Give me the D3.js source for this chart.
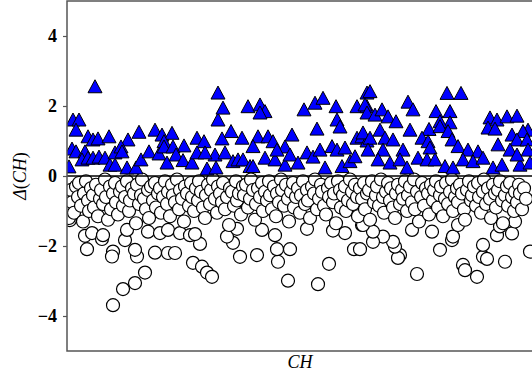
<!DOCTYPE html>
<html>
<head>
<meta charset="utf-8">
<script src="https://cdn.jsdelivr.net/npm/d3@7"></script>
<style>
  body { margin: 0; background: #fff; }
  svg { display: block; }
  .serif { font-family: "Times New Roman", "Liberation Serif", Times, serif; }
</style>
</head>
<body>
<div id="chart"></div>
<script>
// positions along CH (sample index) and Δ(CH) values
const triX = [6,12,9,28,21,26,31,42,61,72,88,95,105,97,117,130,137,151,151,5,9,18,2,15,21,26,32,38,43,48,48,54,55,60,69,74,82,92,100,97,106,109,116,125,130,140,148,138,
  156,181,193,198,193,237,248,256,269,270,273,250,290,300,300,164,155,175,191,201,206,225,186,218,158,166,171,176,183,186,198,208,218,223,231,240,246,253,258,265,270,275,278,283,288,290,295,300,149,210,
  303,380,394,341,346,298,300,308,315,321,329,369,383,383,373,423,430,440,450,421,428,461,343,362,373,381,313,296,445,456,303,318,326,355,361,385,431,450,460,301,316,336,363,391,401,411,443,461,311,323,333,351,360,368,378,386,396,406,416,426,435,453,463,340,450];
const triV = [1.6,1.6,1.31,2.55,1.12,1.03,1.06,1.12,1.03,1.25,1.31,1.17,1.22,0.98,0.86,1.08,0.98,2.37,1.6,0.77,0.69,0.69,0.26,0.46,0.51,0.51,0.54,0.51,0.31,0.31,0.66,0.83,0.69,0.23,0.23,0.46,0.69,0.63,0.37,0.83,0.83,0.6,0.44,0.37,0.66,0.2,0.6,0.66,
  1.94,1.98,2.03,1.84,1.8,1.89,2.08,2.22,1.98,1.6,1.4,1.34,1.98,1.98,2.37,1.27,1.06,1.08,1.12,1.12,0.98,1.17,0.84,0.83,0.66,0.41,0.46,0.46,0.27,0.27,0.51,0.46,0.31,0.6,0.37,0.66,0.54,0.74,0.23,0.84,0.74,0.27,0.8,0.41,0.55,1.08,1.12,1.0,0.23,0.74,
  2.41,2.36,2.36,2.11,1.89,2.03,1.8,1.74,1.89,1.69,1.55,1.84,1.84,1.52,1.55,1.66,1.6,1.69,1.71,1.37,1.34,1.31,1.31,1.33,1.41,1.27,1.31,1.23,1.17,1.27,1.08,1.08,1.03,1.08,0.98,1.03,0.89,1.03,1.03,0.74,0.74,0.74,0.8,0.84,0.74,0.69,0.74,0.74,0.46,0.37,0.46,0.51,0.46,0.46,0.27,0.23,0.46,0.41,0.51,0.23,0.31,0.31,0.37,0.23,0.6];

// outlying circles
const cirX = [46,56,68,78,20,46,45,70,68,88,101,108,126,135,140,145,133,18,25,35,36,58,60,81,93,101,113,123,128,3,
  173,190,211,221,251,262,210,223,208,166,160,287,278,266,240,295,170,195,
  350,410,396,398,416,420,438,416,463,373,385,386,333,331,328,326,316,306,306,296,293,345,365,391,430,445,448,433];
const cirV = [-3.69,-3.23,-3.06,-2.76,-2.09,-2.16,-2.3,-2.3,-2.11,-2.19,-2.2,-2.2,-2.48,-2.59,-2.76,-2.88,-1.94,-1.71,-1.63,-1.8,-1.69,-1.83,-1.54,-1.59,-1.63,-1.54,-1.63,-1.69,-1.66,-1.26,
  -2.31,-2.26,-2.45,-2.99,-3.09,-2.51,-2.09,-2.09,-1.69,-1.91,-1.73,-2.09,-1.63,-1.56,-1.51,-1.4,-1.51,-1.54,
  -2.8,-2.88,-2.54,-2.69,-2.31,-2.37,-2.45,-1.97,-2.16,-2.11,-1.83,-1.73,-2.26,-2.34,-2.02,-1.88,-1.73,-1.88,-1.59,-1.4,-2.09,-1.54,-1.59,-1.4,-1.69,-1.64,-1.3,-1.44];

// the dense band of circles just under zero
const bandX = [0,2,4,5,7,9,11,12,14,16,17,19,21,22,24,26,27,29,31,33,34,36,38,39,41,43,44,46,48,49,51,53,55,56,58,60,62,63,65,67,69,70,72,74,75,77,79,81,82,84,86,88,89,91,93,94,96,98,100,101,103,105,106,108,110,112,113,115,117,118,120,122,124,125,127,129,131,132,134,136,138,139,141,143,144,146,148,150,151,153,155,156,158,160,162,163,165,167,169,170,172,174,176,177,179,181,183,184,186,188,189,191,193,195,196,198,200,202,203,205,207,209,210,212,214,215,217,219,221,222,224,226,227,229,231,233,234,236,238,240,241,243,245,247,248,250,252,254,255,257,259,261,262,264,266,267,269,271,273,274,276,278,279,281,283,285,286,288,290,291,293,295,297,298,300,302,303,305,307,309,310,312,314,316,317,319,321,323,324,326,328,329,331,333,335,336,338,340,341,343,345,347,348,350,352,354,355,357,359,361,362,364,366,367,369,371,373,374,376,378,379,381,383,385,386,388,390,391,393,395,397,398,400,402,404,405,407,409,411,412,414,416,417,419,421,423,424,426,428,429,431,433,435,436,438,440,441,443,445,447,448,450,452,453,455,457,459,460,462,464,466];
const bandV = [-0.95,-1.2,-0.4,-0.75,-1.05,-0.3,-0.6,-0.2,-0.85,-1.3,
  -0.5,-0.15,-0.7,-1.0,-0.35,-0.55,-0.9,-0.25,-1.15,-0.65,
  -0.4,-0.8,-0.1,-0.6,-1.25,-0.3,-0.95,-0.5,-0.2,-0.75,
  -1.1,-0.45,-0.3,-0.85,-0.6,-0.15,-1.0,-0.7,-0.35,-0.5,
  -1.35,-0.25,-0.8,-0.55,-0.1,-0.65,-0.95,-0.4,-1.2,-0.3,
  -0.7,-0.2,-0.9,-0.5,-0.35,-1.05,-0.6,-0.15,-0.8,-0.45,
  -1.15,-0.25,-0.55,-0.75,-0.1,-0.95,-0.4,-0.65,-1.3,-0.3,
  -0.5,-0.85,-0.2,-0.6,-1.0,-0.35,-0.7,-0.15,-0.45,-0.9,
  -1.2,-0.55,-0.25,-0.8,-0.4,-0.1,-0.65,-1.05,-0.3,-0.5,
  -0.75,-0.2,-0.95,-0.6,-1.4,-0.35,-0.45,-0.85,-0.15,-0.7,
  -0.5,-1.1,-0.3,-0.55,-0.25,-0.9,-0.65,-0.1,-0.4,-1.25,
  -0.8,-0.35,-0.6,-0.2,-1.0,-0.45,-0.7,-0.15,-0.55,-0.95,
  -0.3,-1.15,-0.5,-0.75,-0.1,-0.4,-0.85,-0.25,-0.65,-1.3,
  -0.45,-0.2,-0.9,-0.6,-0.35,-1.05,-0.55,-0.15,-0.8,-0.4,
  -0.7,-1.2,-0.3,-0.5,-0.1,-0.95,-0.65,-0.25,-0.45,-0.85,
  -1.1,-0.35,-0.6,-0.2,-0.75,-0.5,-1.35,-0.15,-0.4,-0.9,
  -0.55,-0.3,-1.0,-0.7,-0.1,-0.45,-0.8,-0.25,-0.6,-1.15,
  -0.35,-0.65,-0.2,-0.95,-0.5,-0.4,-1.25,-0.15,-0.75,-0.55,
  -0.3,-0.85,-0.1,-0.6,-1.05,-0.45,-0.2,-0.7,-0.35,-0.9,
  -1.2,-0.5,-0.25,-0.8,-0.4,-0.65,-0.15,-1.0,-0.55,-0.3,
  -0.75,-0.1,-0.95,-0.45,-1.3,-0.6,-0.2,-0.85,-0.35,-0.5,
  -1.1,-0.25,-0.7,-0.4,-0.15,-0.9,-0.55,-0.3,-1.15,-0.65,
  -0.2,-0.8,-0.45,-0.1,-1.0,-0.6,-0.35,-0.75,-0.25,-0.5,
  -0.95,-1.25,-0.4,-0.15,-0.7,-0.55,-0.3,-0.85,-0.2,-0.6,
  -1.05,-0.45,-0.1,-0.8,-0.35,-0.65,-1.2,-0.25,-0.5,-0.9,
  -0.4,-0.15,-0.7,-1.35,-0.55,-0.3,-0.85,-0.2,-0.6,-1.0,
  -0.45,-0.75,-0.25,-0.5,-0.95,-0.35,-0.65];

const yTicks = [-4, -2, 0, 2, 4];

const width = 532, height = 376;
const plotLeft = 67, plotRight = 533, plotTop = 1, plotBottom = 351;

const svg = d3.select('#chart').append('svg')
  .attr('width', width)
  .attr('height', height);

const x = d3.scaleLinear().domain([0, 466]).range([plotLeft, plotRight]);
const y = d3.scaleLinear().domain([-5, 5]).range([plotBottom, plotTop]);

svg.append('clipPath').attr('id', 'plot')
  .append('rect')
  .attr('x', plotLeft).attr('y', plotTop)
  .attr('width', plotRight - plotLeft).attr('height', plotBottom - plotTop);

const g = svg.append('g').attr('clip-path', 'url(#plot)');

const circles = d3.zip(cirX, cirV).concat(d3.zip(bandX, bandV));
const triangles = d3.zip(triX, triV);

g.selectAll('circle.pt')
  .data(circles)
  .enter()
  .append('circle')
  .attr('class', 'pt')
  .attr('cx', d => x(d[0]))
  .attr('cy', d => y(d[1]))
  .attr('r', 6.5)
  .attr('fill', '#fff')
  .attr('stroke', '#000')
  .attr('stroke-width', 1.2);

// zero line
g.append('line')
  .attr('x1', plotLeft).attr('x2', plotRight)
  .attr('y1', y(0)).attr('y2', y(0))
  .attr('stroke', '#000')
  .attr('stroke-width', 1.5);

const tri = 'M0,-7L-7,6L7,6Z';
g.selectAll('path.tri')
  .data(triangles)
  .enter()
  .append('path')
  .attr('class', 'tri')
  .attr('d', tri)
  .attr('transform', d => `translate(${x(d[0])},${y(d[1])})`)
  .attr('fill', '#0000ff')
  .attr('stroke', '#000')
  .attr('stroke-width', 1);

// frame
svg.append('rect')
  .attr('x', plotLeft).attr('y', plotTop)
  .attr('width', plotRight - plotLeft).attr('height', plotBottom - plotTop)
  .attr('fill', 'none')
  .attr('stroke', '#555')
  .attr('stroke-width', 1.5);

const yAxis = svg.append('g')
  .attr('transform', `translate(${plotLeft},0)`)
  .call(d3.axisLeft(y)
    .tickValues(yTicks)
    .tickSize(4)
    .tickPadding(6)
    .tickFormat(d => String(d).replace('-', '\u2212')));

yAxis.attr('font-family', null);
yAxis.select('.domain').remove();
yAxis.selectAll('.tick line').attr('stroke', '#555').attr('stroke-width', 1.2);
yAxis.selectAll('.tick text')
  .attr('class', 'serif')
  .style('font-weight', 'bold')
  .style('font-size', '18px')
  .attr('fill', '#000');

svg.append('text')
  .attr('class', 'serif')
  .attr('x', (plotLeft + plotRight) / 2)
  .attr('y', 368)
  .attr('text-anchor', 'middle')
  .style('font-style', 'italic')
  .style('font-size', '18px')
  .text('CH');

const yl = svg.append('text')
  .attr('class', 'serif')
  .attr('transform', `translate(26,${y(0)}) rotate(-90)`)
  .attr('text-anchor', 'middle')
  .style('font-size', '18px');
yl.append('tspan').style('font-style', 'italic').text('Δ');
yl.append('tspan').text('(');
yl.append('tspan').style('font-style', 'italic').text('CH');
yl.append('tspan').text(')');
</script>
</body>
</html>
